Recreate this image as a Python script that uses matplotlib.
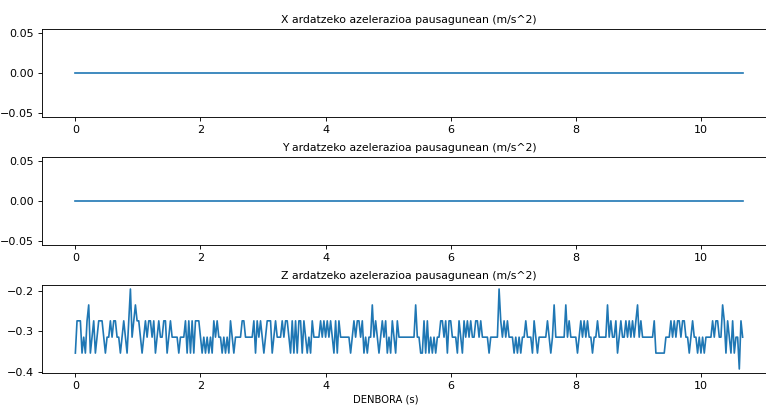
import numpy as np
import matplotlib
matplotlib.use("Agg")
import matplotlib.pyplot as plt

# Z accelerometer readings are quantised; each digit is an index into Z_LEVELS
Z_LEVELS = [-0.196, -0.235, -0.274, -0.314, -0.353, -0.392]
Z_CODES = (
    "4222434214" "3243222343" "3232233432" "3420321223" "4323223243"
    "2332243233" "3343332424" "2422234343" "4342323343" "43423433"
    "3322333332" "4232343222" "4323332322" "3424242242" "3434233332"
    "3232323424" "2333333432" "3223243433" "1323432324" "3423423333"
    "33"
    "3333133442" "4243434332" "2324223334" "2342323233" "2232333343"
    "3333023232" "3334343433" "2333423433" "3332343133" "3333132333"
    "34"
    "3232323343" "3233333132" "3324323323" "2323213233" "3333324444"
    "4433323232" "2322334323" "3434343333" "2322331242" "342433523"
)
T_END = 10.67

z_acc = [Z_LEVELS[int(c)] for c in Z_CODES]
n = len(z_acc)
x_acc = [0.0] * n
y_acc = [0.0] * n
time = np.linspace(0, T_END, n)

titles = [
    "X ardatzeko azelerazioa pausagunean (m/s^2)",
    "Y ardatzeko azelerazioa pausagunean (m/s^2)",
    "Z ardatzeko azelerazioa pausagunean (m/s^2)",
]

fig = plt.figure(figsize=(766 / 80, 405 / 80), dpi=80)
left = 42 / 766
width = (776 - 42) / 766
tops = [29, 157, 285]
for top, series, title in zip(tops, [x_acc, y_acc, z_acc], titles):
    ax = fig.add_axes([left, 1 - (top + 88) / 405, width, 88 / 405])
    ax.plot(time, series)
    ax.set_title(title, fontsize=9.8, pad=5)
    ax.set_xticks([0, 2, 4, 6, 8, 10])

fig.text(386 / 766, 1 - 403 / 405, "DENBORA (s)", ha="center", va="baseline",
         fontsize=9)

fig.savefig("out.png", dpi=80)
